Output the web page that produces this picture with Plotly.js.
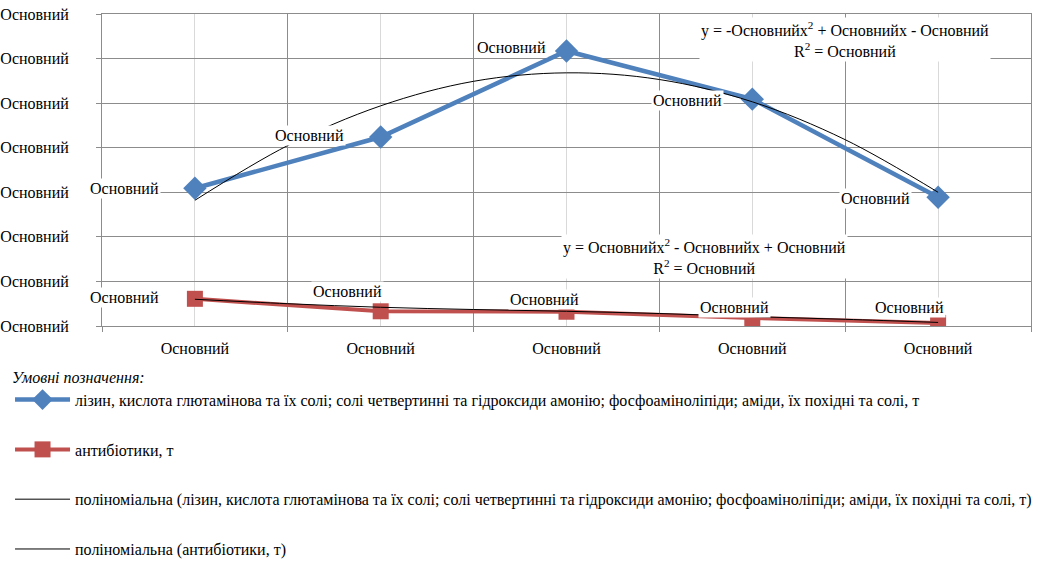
<!DOCTYPE html>
<html>
<head>
<meta charset="utf-8">
<script src="https://cdn.plot.ly/plotly-3.0.1.min.js"></script>
<style>
html,body{margin:0;padding:0;background:#fff;font-family:'Liberation Serif',serif;}
</style>
</head>
<body>
<div id="chart" style="width:1043px;height:562px;"></div>
<script>
// ---- data ----
const categories = ["Основний", "Основний", "Основний", "Основний", "Основний"];
const xIndex = [1, 2, 3, 4, 5];
const yTickValues = [0, 1, 2, 3, 4, 5, 6, 7];
const yTickLabels = ["Основний", "Основний", "Основний", "Основний", "Основний", "Основний", "Основний", "Основний"];

const seriesBlueName = "лізин, кислота глютамінова та їх солі; солі четвертинні та гідроксиди амонію; фосфоаміноліпіди; аміди, їх похідні та солі, т";
const seriesRedName = "антибіотики, т";
const trendBlueName = "поліноміальна (лізин, кислота глютамінова та їх солі; солі четвертинні та гідроксиди амонію; фосфоаміноліпіди; аміди, їх похідні та солі, т)";
const trendRedName = "поліноміальна (антибіотики, т)";

const blueValues = [3.09, 4.24, 6.17, 5.09, 2.89];
const redValues = [0.61, 0.33, 0.32, 0.18, 0.07];
const blueLabels = ["Основний", "Основний", "Основний", "Основний", "Основний"];
const redLabels = ["Основний", "Основний", "Основний", "Основний", "Основний"];

// trendline values
const trendX = [1, 1.5, 2, 2.5, 3, 3.5, 4, 4.5, 5];
const blueTrend = [2.82, 4.05, 4.94, 5.49, 5.68, 5.53, 5.03, 4.18, 3.00];
const redTrend = [0.60, 0.50, 0.42, 0.37, 0.33, 0.28, 0.21, 0.15, 0.08];

const blueEquation = "y = -Основнийx<sup>2</sup> + Основнийx - Основний<br>R<sup>2</sup> = Основний";
const redEquation = "y = Основнийx<sup>2</sup> - Основнийx + Основний<br>R<sup>2</sup> = Основний";
const legendTitle = "<i>Умовні позначення:</i>";

// ---- styles ----
const FONT = "Liberation Serif";
const BLUE = "#4f81bd";
const RED = "#c0504d";
const f16 = {family: FONT, size: 16, color: "#000000"};

const traces = [
  {x: xIndex, y: blueValues, name: seriesBlueName, type: "scatter", mode: "lines+markers",
   line: {color: BLUE, width: 4.5}, marker: {symbol: "diamond", size: 18, color: BLUE},
   legendgroup: "a", hoverinfo: "skip"},
  {x: xIndex, y: redValues, name: seriesRedName, type: "scatter", mode: "lines+markers",
   line: {color: RED, width: 4}, marker: {symbol: "square", size: 16, color: RED},
   legendgroup: "b", hoverinfo: "skip"},
  {x: trendX, y: blueTrend, name: trendBlueName, type: "scatter", mode: "lines",
   line: {color: "#000", width: 1, shape: "spline"}, legendgroup: "c", hoverinfo: "skip"},
  {x: trendX, y: redTrend, name: trendRedName, type: "scatter", mode: "lines",
   line: {color: "#000", width: 1, shape: "spline"}, legendgroup: "d", hoverinfo: "skip"}
];

const blueShift = [[-70, 0], [-71, 2], [-55, 3], [-65, -1], [-63, -1]];
const redShift = [[-70, 1], [-33, 20], [-22, 12], [-18, 10], [-29, 15]];

const annotations = [];
xIndex.forEach((xv, i) => {
  annotations.push({x: xv, y: blueValues[i], xref: "x", yref: "y", text: blueLabels[i],
    showarrow: false, xanchor: "center", yanchor: "middle", xshift: blueShift[i][0], yshift: blueShift[i][1],
    bgcolor: "#fff", font: f16});
  annotations.push({x: xv, y: redValues[i], xref: "x", yref: "y", text: redLabels[i],
    showarrow: false, xanchor: "center", yanchor: "middle", xshift: redShift[i][0], yshift: redShift[i][1],
    bgcolor: "#fff", font: f16});
});
annotations.push({x: 0.7998, y: 0.917, xref: "paper", yref: "paper", text: blueEquation, showarrow: false,
  xanchor: "center", yanchor: "middle", align: "center", bgcolor: "#fff", font: f16});
annotations.push({x: 0.649, y: 0.224, xref: "paper", yref: "paper", text: redEquation, showarrow: false,
  xanchor: "center", yanchor: "middle", align: "center", bgcolor: "#fff", font: f16});

const layout = {
  width: 1043, height: 562,
  margin: {l: 102, r: 12, t: 14, b: 236, autoexpand: false},
  paper_bgcolor: "#fff", plot_bgcolor: "#fff",
  font: f16,
  showlegend: true,
  legend: {
    x: -0.099, xanchor: "left", y: -0.115, yanchor: "top",
    orientation: "v", traceorder: "grouped", tracegroupgap: 26, itemwidth: 55,
    font: f16,
    title: {text: legendTitle, font: f16, side: "top"},
    bgcolor: "rgba(0,0,0,0)"
  },
  xaxis: {
    type: "linear", range: [0.5, 5.5], tickmode: "array", tickvals: xIndex, ticktext: categories,
    showgrid: true, gridcolor: "#d9d9d9", gridwidth: 1, zeroline: false,
    ticks: "", ticklabelstandoff: 8,
    showline: true, linecolor: "#8c8c8c", linewidth: 1, mirror: true,
    minor: {tick0: 0.5, dtick: 1, showgrid: true, gridcolor: "#8c8c8c", gridwidth: 1,
            ticks: "outside", ticklen: 5, tickcolor: "#8c8c8c"},
    tickfont: f16, fixedrange: true
  },
  yaxis: {
    range: [0, 7], tickmode: "array", tickvals: yTickValues, ticktext: yTickLabels,
    showgrid: true, gridcolor: "#8c8c8c", gridwidth: 1, zeroline: false,
    ticks: "outside", ticklen: 5, tickcolor: "#8c8c8c", ticklabelstandoff: 24,
    showline: true, linecolor: "#8c8c8c", linewidth: 1, mirror: true,
    tickfont: f16, fixedrange: true
  },
  annotations: annotations
};

Plotly.newPlot("chart", traces, layout, {displayModeBar: false, staticPlot: true});
</script>
</body>
</html>
